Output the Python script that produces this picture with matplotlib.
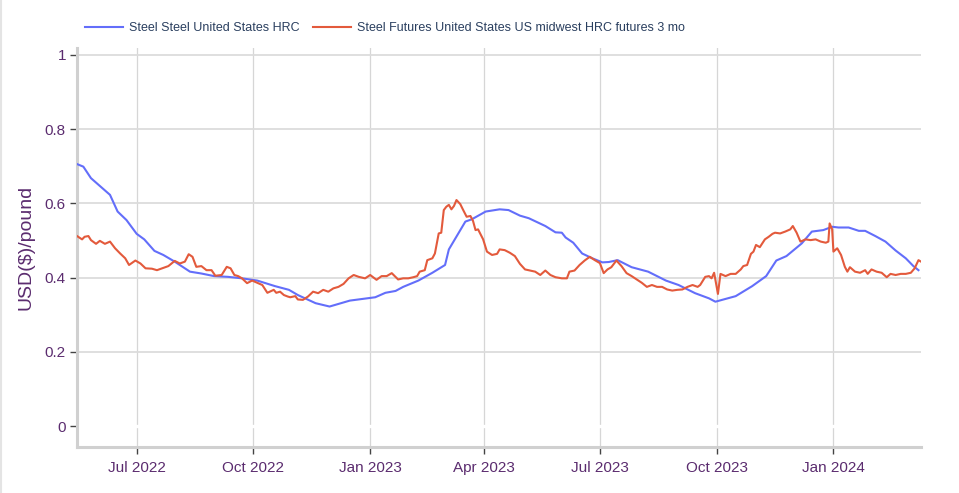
import matplotlib
matplotlib.use("Agg")
import matplotlib.pyplot as plt
import matplotlib.dates as mdates
import pandas as pd

# ---------------- data ----------------
blue_name = "Steel Steel United States HRC"
red_name = "Steel Futures United States US midwest HRC futures 3 mo"

blue_dates = [
    "2022-05-15", "2022-05-20", "2022-05-26", "2022-06-02", "2022-06-10", "2022-06-16",
    "2022-06-23", "2022-07-01", "2022-07-07", "2022-07-15", "2022-07-22", "2022-07-31",
    "2022-08-12", "2022-08-21", "2022-08-31", "2022-09-11", "2022-09-22", "2022-10-04",
    "2022-10-18", "2022-10-29", "2022-11-05", "2022-11-19", "2022-11-30", "2022-12-16",
    "2023-01-05", "2023-01-13", "2023-01-21", "2023-01-27", "2023-02-08", "2023-02-19",
    "2023-03-01", "2023-03-04", "2023-03-17", "2023-03-22", "2023-04-02", "2023-04-13",
    "2023-04-20", "2023-04-29", "2023-05-06", "2023-05-19", "2023-05-27", "2023-06-01",
    "2023-06-04", "2023-06-10", "2023-06-17", "2023-06-25", "2023-07-03", "2023-07-08",
    "2023-07-15", "2023-07-26", "2023-08-08", "2023-08-22", "2023-09-01", "2023-09-14",
    "2023-09-25", "2023-09-30", "2023-10-16", "2023-10-29", "2023-11-09", "2023-11-17",
    "2023-11-25", "2023-12-07", "2023-12-15", "2023-12-24", "2023-12-31", "2024-01-05",
    "2024-01-13", "2024-01-21", "2024-01-26", "2024-02-03", "2024-02-11", "2024-02-19",
    "2024-02-27", "2024-03-04", "2024-03-08",
]
blue_vals = [
    0.706, 0.699, 0.668, 0.647, 0.623, 0.578,
    0.555, 0.518, 0.503, 0.472, 0.461, 0.443,
    0.416, 0.411, 0.404, 0.402, 0.398, 0.392,
    0.377, 0.367, 0.353, 0.331, 0.322, 0.338,
    0.347, 0.359, 0.364, 0.375, 0.392, 0.413,
    0.434, 0.476, 0.551, 0.557, 0.578, 0.584,
    0.582, 0.567, 0.560, 0.539, 0.522, 0.521,
    0.508, 0.494, 0.465, 0.452, 0.441, 0.442,
    0.447, 0.428, 0.416, 0.392, 0.380, 0.358,
    0.344, 0.335, 0.350, 0.377, 0.404, 0.446,
    0.458, 0.492, 0.524, 0.528, 0.537, 0.535,
    0.535, 0.526, 0.526, 0.512, 0.497, 0.473,
    0.452, 0.431, 0.420,
]

red_dates = [
    # May-Jun 2022
    "2022-05-15", "2022-05-19", "2022-05-21", "2022-05-24", "2022-05-26", "2022-05-30",
    "2022-06-02", "2022-06-06", "2022-06-10", "2022-06-14", "2022-06-18", "2022-06-22",
    "2022-06-25", "2022-06-30",
    # Jul-Aug 2022
    "2022-07-04", "2022-07-08", "2022-07-13", "2022-07-17", "2022-07-21", "2022-07-26",
    "2022-07-31", "2022-08-04", "2022-08-08", "2022-08-11", "2022-08-14", "2022-08-17",
    "2022-08-21", "2022-08-25", "2022-08-29",
    # Sep-Oct 2022
    "2022-09-01", "2022-09-06", "2022-09-10", "2022-09-13", "2022-09-16", "2022-09-19",
    "2022-09-22", "2022-09-26", "2022-09-30", "2022-10-04", "2022-10-08", "2022-10-12",
    "2022-10-17", "2022-10-19", "2022-10-22", "2022-10-25", "2022-10-28", "2022-10-30",
    # Nov-Dec 2022
    "2022-11-03", "2022-11-05", "2022-11-09", "2022-11-13", "2022-11-17", "2022-11-21",
    "2022-11-25", "2022-11-29", "2022-12-03", "2022-12-07", "2022-12-11", "2022-12-15",
    "2022-12-19", "2022-12-23", "2022-12-28",
    # Jan-Feb 2023
    "2023-01-01", "2023-01-06", "2023-01-10", "2023-01-14", "2023-01-18", "2023-01-23",
    "2023-01-27", "2023-01-31", "2023-02-04", "2023-02-07", "2023-02-09", "2023-02-13",
    "2023-02-15", "2023-02-19", "2023-02-21", "2023-02-24", "2023-02-26", "2023-02-28",
    # Mar-Apr 2023
    "2023-03-02", "2023-03-04", "2023-03-06", "2023-03-08", "2023-03-10", "2023-03-13",
    "2023-03-15", "2023-03-18", "2023-03-21", "2023-03-23", "2023-03-25", "2023-03-27",
    "2023-03-31", "2023-04-03", "2023-04-07", "2023-04-11", "2023-04-13", "2023-04-17",
    "2023-04-21", "2023-04-25", "2023-04-29",
    # May-Jun 2023
    "2023-05-03", "2023-05-07", "2023-05-11", "2023-05-15", "2023-05-19", "2023-05-23",
    "2023-05-27", "2023-06-01", "2023-06-05", "2023-06-07", "2023-06-11", "2023-06-15",
    "2023-06-19", "2023-06-23", "2023-06-27",
    # Jul-Aug 2023
    "2023-07-01", "2023-07-04", "2023-07-07", "2023-07-10", "2023-07-14", "2023-07-18",
    "2023-07-22", "2023-07-26", "2023-07-30", "2023-08-03", "2023-08-07", "2023-08-11",
    "2023-08-15", "2023-08-19", "2023-08-23", "2023-08-27", "2023-08-31",
    # Sep-Oct 2023
    "2023-09-04", "2023-09-08", "2023-09-12", "2023-09-16", "2023-09-18", "2023-09-22",
    "2023-09-25", "2023-09-27", "2023-09-29", "2023-10-02", "2023-10-04", "2023-10-08",
    "2023-10-12", "2023-10-16", "2023-10-20", "2023-10-22", "2023-10-25", "2023-10-28",
    "2023-10-30",
    # Nov-Dec 2023
    "2023-11-01", "2023-11-04", "2023-11-08", "2023-11-11", "2023-11-14", "2023-11-16",
    "2023-11-20", "2023-11-24", "2023-11-28", "2023-11-30", "2023-12-03", "2023-12-06",
    "2023-12-10", "2023-12-14", "2023-12-18", "2023-12-22", "2023-12-26", "2023-12-28",
    "2023-12-29", "2023-12-31",
    # Jan-Mar 2024
    "2024-01-01", "2024-01-04", "2024-01-07", "2024-01-10", "2024-01-12", "2024-01-14",
    "2024-01-18", "2024-01-22", "2024-01-26", "2024-01-28", "2024-01-31", "2024-02-04",
    "2024-02-08", "2024-02-12", "2024-02-15", "2024-02-19", "2024-02-23", "2024-02-27",
    "2024-03-02", "2024-03-05", "2024-03-08", "2024-03-10",
]
red_vals = [
    # May-Jun 2022
    0.512, 0.503, 0.510, 0.512, 0.501, 0.491,
    0.499, 0.491, 0.497, 0.479, 0.465, 0.452,
    0.434, 0.446,
    # Jul-Aug 2022
    0.438, 0.425, 0.424, 0.420, 0.425, 0.431,
    0.445, 0.438, 0.443, 0.463, 0.456, 0.429,
    0.431, 0.420, 0.420,
    # Sep-Oct 2022
    0.405, 0.407, 0.429, 0.425, 0.407, 0.404,
    0.398, 0.385, 0.392, 0.386, 0.380, 0.359,
    0.367, 0.359, 0.362, 0.353, 0.349, 0.347,
    # Nov-Dec 2022
    0.350, 0.341, 0.340, 0.349, 0.362, 0.358,
    0.367, 0.362, 0.371, 0.375, 0.383, 0.398,
    0.407, 0.402, 0.398,
    # Jan-Feb 2023
    0.407, 0.394, 0.404, 0.404, 0.412, 0.395,
    0.398, 0.398, 0.401, 0.404, 0.416, 0.420,
    0.447, 0.452, 0.465, 0.519, 0.521, 0.582,
    # Mar-Apr 2023
    0.591, 0.596, 0.584, 0.593, 0.609, 0.598,
    0.584, 0.564, 0.566, 0.553, 0.528, 0.530,
    0.503, 0.470, 0.461, 0.464, 0.476, 0.474,
    0.467, 0.458, 0.437,
    # May-Jun 2023
    0.422, 0.419, 0.416, 0.407, 0.419, 0.407,
    0.401, 0.398, 0.398, 0.416, 0.419, 0.434,
    0.446, 0.456, 0.447,
    # Jul-Aug 2023
    0.439, 0.412, 0.422, 0.428, 0.446, 0.431,
    0.412, 0.404, 0.395, 0.386, 0.375, 0.380,
    0.375, 0.375, 0.368, 0.365, 0.367,
    # Sep-Oct 2023
    0.368, 0.375, 0.380, 0.375, 0.380, 0.402,
    0.404, 0.398, 0.413, 0.356, 0.410, 0.404,
    0.410, 0.410, 0.422, 0.431, 0.434, 0.464,
    0.470,
    # Nov-Dec 2023
    0.488, 0.482, 0.503, 0.510, 0.518, 0.521,
    0.519, 0.524, 0.530, 0.539, 0.521, 0.497,
    0.503, 0.501, 0.503, 0.497, 0.494, 0.497,
    0.546, 0.530,
    # Jan-Mar 2024
    0.470, 0.479, 0.461, 0.429, 0.416, 0.428,
    0.416, 0.413, 0.420, 0.410, 0.422, 0.416,
    0.413, 0.401, 0.410, 0.407, 0.410, 0.410,
    0.413, 0.425, 0.447, 0.443,
]

x_range = ["2022-05-15", "2024-03-10"]
x_ticks = ["2022-07-01", "2022-10-01", "2023-01-01", "2023-04-01",
           "2023-07-01", "2023-10-01", "2024-01-01"]
y_ticks = [0, 0.2, 0.4, 0.6, 0.8, 1]
y_tick_labels = ["0", "0.2", "0.4", "0.6", "0.8", "1"]

# ---------------- style ----------------
plt.rcParams['font.family'] = ['Liberation Sans', 'DejaVu Sans']
tick_purple = '#5b2c6f'

fig = plt.figure(figsize=(9.59, 4.93), dpi=100)
ax = fig.add_axes([77 / 959, 1 - 447 / 493, (921 - 77) / 959, (447 - 48.3) / 493])

ax.plot(pd.to_datetime(blue_dates), blue_vals, color='#636efa', lw=1.5,
        label=blue_name, zorder=3, solid_joinstyle='round')
ax.plot(pd.to_datetime(red_dates), red_vals, color='#e35a3c', lw=1.5,
        label=red_name, zorder=4, solid_joinstyle='round')

ax.set_xlim(pd.to_datetime(x_range[0]), pd.to_datetime(x_range[1]))
ax.set_ylim(-0.0566, 1.018)

ax.set_yticks(y_ticks)
ax.set_yticklabels(y_tick_labels)
ax.set_xticks(pd.to_datetime(x_ticks))
ax.xaxis.set_major_formatter(mdates.DateFormatter('%b %Y'))

# grid + white zero line like plotly
ax.set_axisbelow(True)
ax.grid(axis='x', color='#d6d6d6', lw=0.9)
ax.grid(axis='y', color='#dcdcdc', lw=1.3)
ax.axhline(0, color='white', lw=2.4, zorder=1.5)

for side in ['top', 'right']:
    ax.spines[side].set_visible(False)
for side in ['left', 'bottom']:
    ax.spines[side].set_color('#d0d0d0')
    ax.spines[side].set_linewidth(2.2)

ax.tick_params(axis='both', colors='#444444', length=5, width=1,
               labelcolor=tick_purple, labelsize=11)
ax.tick_params(axis='y', pad=3)
ax.tick_params(axis='x', pad=5)

ax.set_ylabel('USD($)/pound', fontsize=14, color=tick_purple)
ax.yaxis.label.set_va('center')
ax.yaxis.set_label_coords(-0.061, 0.5)

fig.legend(loc='center left', bbox_to_anchor=(85 / 959, 1 - 28 / 493), ncol=2,
           frameon=False, fontsize=9, handlelength=3.0, handletextpad=0.5,
           columnspacing=1.1, borderpad=0, borderaxespad=0, labelcolor='#2a3f5f')

# faint page edge on the left
fig.add_artist(plt.Line2D([0.001, 0.001], [0, 1], transform=fig.transFigure,
                          color='#e4e4e4', lw=1.5))

fig.savefig('out.png', dpi=100)
